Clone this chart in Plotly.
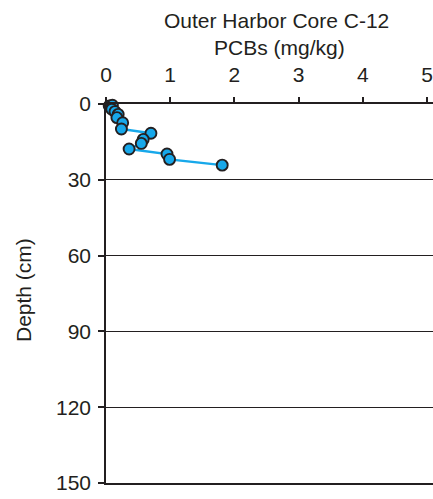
import plotly.graph_objects as go

pcb = [0.05, 0.10, 0.09, 0.14, 0.19, 0.17, 0.26, 0.24, 0.70, 0.58, 0.55, 0.36, 0.95, 0.99, 1.81]
depth = [0.8, 0.5, 2.1, 3.0, 4.1, 5.4, 7.4, 9.9, 11.6, 14.0, 15.6, 17.8, 19.8, 21.9, 24.2]
x_ticks = [0, 1, 2, 3, 4, 5]
y_ticks = [0, 30, 60, 90, 120, 150]

BLUE = "#17a8ea"
INK = "#231f20"
FONT = "Liberation Sans, Arial, sans-serif"
FS = 21

L, R, T, B = 106, 0, 104, 16
W, H = 433, 499
PW, PH = W - L - R, H - T - B

fig = go.Figure()
fig.add_trace(go.Scatter(
    x=pcb, y=depth, mode="lines+markers",
    line=dict(color=BLUE, width=2.4),
    marker=dict(size=11, color=BLUE, line=dict(color=INK, width=1.9)),
    cliponaxis=False, showlegend=False, hoverinfo="skip",
))

fig.update_layout(
    width=W, height=H,
    margin=dict(l=L, r=R, t=T, b=B, autoexpand=False),
    paper_bgcolor="white", plot_bgcolor="white",
    font=dict(family=FONT, size=FS, color=INK),
    xaxis=dict(
        side="top", range=[0, 5 * PW / 321], tickvals=x_ticks,
        ticks="outside", ticklen=5, tickwidth=1.5, tickcolor=INK,
        showline=True, linecolor=INK, linewidth=1.5, mirror=True,
        showgrid=False, zeroline=False,
        tickfont=dict(size=FS, family=FONT, color=INK),
        ticklabelstandoff=7,
    ),
    yaxis=dict(
        range=[150, 0], tickvals=y_ticks,
        ticks="outside", ticklen=6, tickwidth=1.5, tickcolor=INK,
        showline=True, linecolor=INK, linewidth=1.5,
        showgrid=True, gridcolor=INK, gridwidth=1,
        zeroline=False,
        tickfont=dict(size=FS, family=FONT, color=INK),
        ticklabelstandoff=3,
    ),
    annotations=[
        dict(text="Outer Harbor Core C-12", xref="paper", yref="paper",
             x=(276 - L) / PW, y=1 + (T - 20) / PH, showarrow=False,
             xanchor="center", yanchor="middle", font=dict(size=FS, family=FONT, color=INK)),
        dict(text="PCBs (mg/kg)", xref="paper", yref="paper",
             x=(279 - L) / PW, y=1 + (T - 48) / PH, showarrow=False,
             xanchor="center", yanchor="middle", font=dict(size=FS, family=FONT, color=INK)),
        dict(text="Depth (cm)", xref="paper", yref="paper",
             x=-(L - 23) / PW, y=(H - B - 290) / PH, showarrow=False, textangle=-90,
             xanchor="center", yanchor="middle", font=dict(size=FS, family=FONT, color=INK)),
    ],
)

fig.write_html("out.html", config={"displayModeBar": False},
               post_script="document.body.style.margin='0';")
